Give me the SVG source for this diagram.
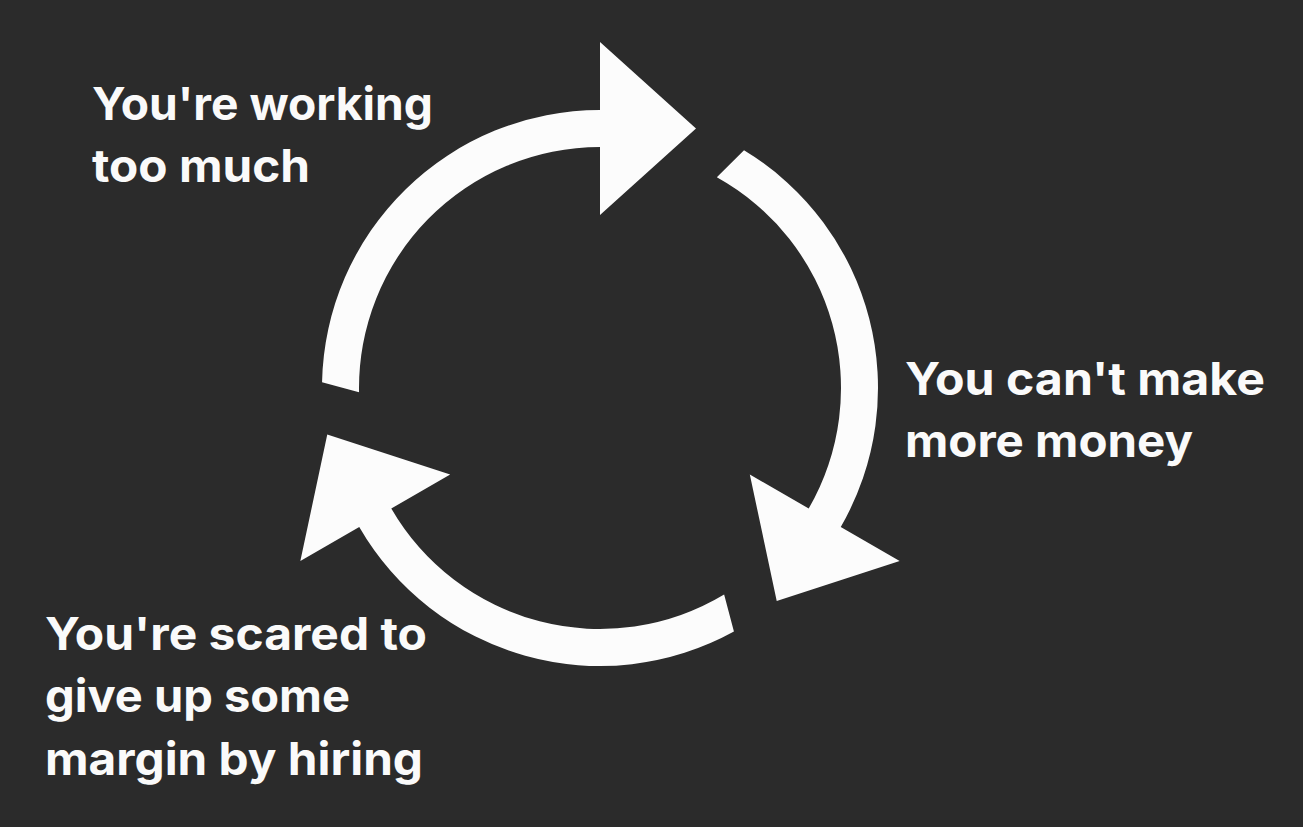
<svg xmlns="http://www.w3.org/2000/svg" xmlns:xlink="http://www.w3.org/1999/xlink" width="1303" height="827" viewBox="0 0 1303 827">
  <style>
    .bg { fill: #2b2b2b; }
    .arrow { fill: #fcfcfc; }
    .label { font-family: Inter, "Open Sans", "Liberation Sans", sans-serif; font-weight: 700; font-size: 45px; fill: #fafafa; }
  </style>
  <defs>
    <path id="cycleArrow" d="M 322.06 382.18 A 278 278 0 0 1 600 110 L 600 42 L 696 128.5 L 600 215 L 600 147 A 241 241 0 0 0 359.04 392.21 Z"/>
  </defs>
  <rect class="bg" x="0" y="0" width="1303" height="827"/>
  <g id="connectors">
    <use xlink:href="#cycleArrow" href="#cycleArrow" class="arrow"/>
    <use xlink:href="#cycleArrow" href="#cycleArrow" class="arrow" transform="rotate(120 600 388)"/>
    <use xlink:href="#cycleArrow" href="#cycleArrow" class="arrow" transform="rotate(240 600 388)"/>
  </g>
  <g id="node-working">
    <text class="label" x="92" y="120" textLength="341" lengthAdjust="spacingAndGlyphs">You're working</text>
    <text class="label" x="92" y="182" textLength="218" lengthAdjust="spacingAndGlyphs">too much</text>
  </g>
  <g id="node-money">
    <text class="label" x="905" y="395" textLength="360" lengthAdjust="spacingAndGlyphs">You can't make</text>
    <text class="label" x="905" y="457" textLength="288" lengthAdjust="spacingAndGlyphs">more money</text>
  </g>
  <g id="node-scared">
    <text class="label" x="45" y="650" textLength="382" lengthAdjust="spacingAndGlyphs">You're scared to</text>
    <text class="label" x="45" y="712" textLength="305" lengthAdjust="spacingAndGlyphs">give up some</text>
    <text class="label" x="45" y="775" textLength="378" lengthAdjust="spacingAndGlyphs">margin by hiring</text>
  </g>
</svg>
